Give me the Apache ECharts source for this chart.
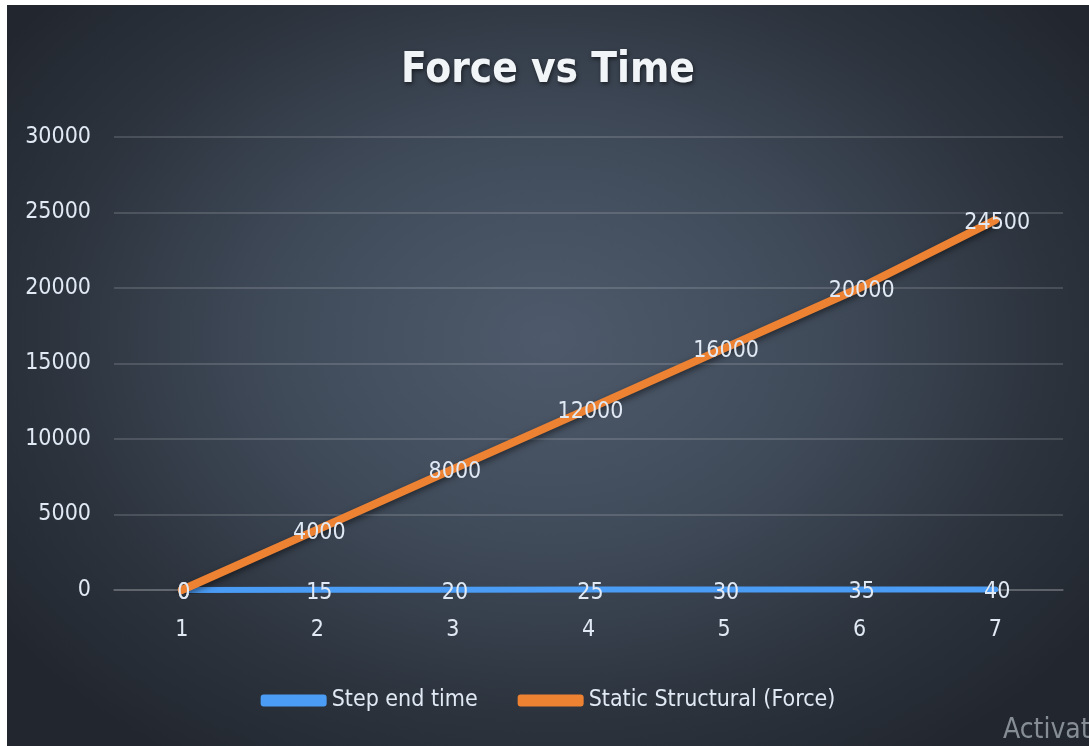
<!DOCTYPE html>
<html>
<head>
<meta charset="utf-8">
<script src="https://cdn.jsdelivr.net/npm/echarts@6/dist/echarts.min.js"></script>
<style>
  html, body { margin: 0; padding: 0; background: #ffffff; width: 1089px; height: 746px; overflow: hidden; }
  #chart {
    position: absolute; left: 7px; top: 5px; width: 1082px; height: 741px;
    background: radial-gradient(ellipse 62% 68% at 50% 45%, #4e5a6b 0%, #404b5a 40%, #2c333d 75%, #22272f 100%);
  }
</style>
</head>
<body>
<div id="chart"></div>
<script>
// Load steps and the two recorded series
const steps = ['1', '2', '3', '4', '5', '6', '7'];
const stepEndTime = [0, 15, 20, 25, 30, 35, 40];
const staticForce = [0, 4000, 8000, 12000, 16000, 20000, 24500];
const yTicks = { min: 0, max: 30000, interval: 5000 };

const FONT = '"DejaVu Sans Condensed", "Liberation Sans", sans-serif';
const TEXT = '#e0e9f4';
const SIZE = 23;

const chart = echarts.init(document.getElementById('chart'), null, { renderer: 'canvas' });

const valueLabel = {
  show: true,
  position: 'inside',
  offset: [2, 3],
  color: TEXT,
  fontFamily: FONT,
  fontSize: SIZE
};

chart.setOption({
  backgroundColor: 'transparent',
  animation: false,
  title: {
    text: 'Force vs Time',
    left: 'center',
    top: 40,
    textStyle: {
      color: '#f2f5f8',
      fontFamily: FONT,
      fontWeight: 'bold',
      fontSize: 42,
      textShadowColor: 'rgba(0,0,0,0.55)',
      textShadowBlur: 4,
      textShadowOffsetX: 1,
      textShadowOffsetY: 2
    }
  },
  legend: {
    data: ['Step end time', 'Static Structural (Force)'],
    left: 'center',
    top: 679,
    icon: 'roundRect',
    itemWidth: 66,
    itemHeight: 12,
    itemGap: 40,
    textStyle: { color: TEXT, fontFamily: FONT, fontSize: SIZE }
  },
  grid: { left: 107, right: 26, top: 132, bottom: 156 },
  xAxis: {
    type: 'category',
    data: steps,
    boundaryGap: true,
    axisLine: { show: true, lineStyle: { color: 'rgba(255,255,255,0.14)', width: 2 } },
    axisTick: { show: false },
    axisLabel: { color: TEXT, fontFamily: FONT, fontSize: SIZE, margin: 29 }
  },
  yAxis: {
    type: 'value',
    min: yTicks.min,
    max: yTicks.max,
    interval: yTicks.interval,
    axisLine: { show: false },
    axisTick: { show: false },
    splitLine: { lineStyle: { color: 'rgba(255,255,255,0.14)', width: 2 } },
    axisLabel: {
      color: TEXT, fontFamily: FONT, fontSize: SIZE, margin: 23,
      formatter: (v) => String(v)
    }
  },
  graphic: [{
    type: 'text',
    left: 996,
    top: 712,
    style: {
      text: 'Activat',
      fill: 'rgba(170,176,184,0.75)',
      font: '28px "DejaVu Sans Condensed", sans-serif'
    }
  }],
  series: [
    {
      name: 'Step end time',
      type: 'line',
      data: stepEndTime,
      symbol: 'circle',
      symbolSize: 0.1,
      showSymbol: true,
      lineStyle: { color: '#4a9cf5', width: 6, cap: 'round' },
      itemStyle: { color: '#4a9cf5' },
      label: valueLabel,
      z: 2
    },
    {
      name: 'Static Structural (Force)',
      type: 'line',
      data: staticForce,
      symbol: 'circle',
      symbolSize: 0.1,
      showSymbol: true,
      lineStyle: {
        color: '#ee8233', width: 8, cap: 'round',
        shadowColor: 'rgba(0,0,0,0.5)', shadowBlur: 6, shadowOffsetY: 3
      },
      itemStyle: { color: '#ee8233' },
      label: valueLabel,
      z: 3
    }
  ]
});
</script>
</body>
</html>
